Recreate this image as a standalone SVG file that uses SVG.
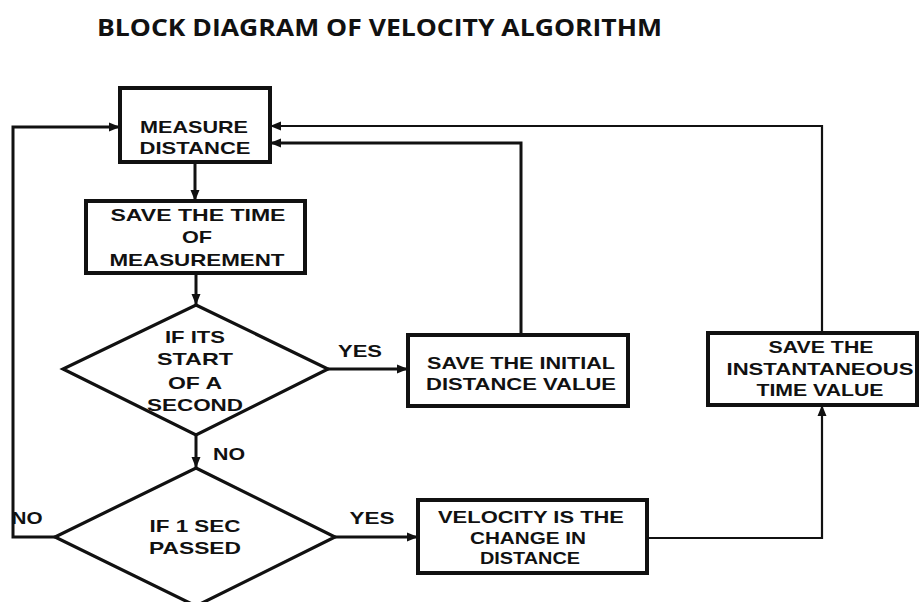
<svg xmlns="http://www.w3.org/2000/svg" width="920" height="602" viewBox="0 0 920 602">
  <defs>
    <marker id="arrow" markerUnits="userSpaceOnUse" markerWidth="12" markerHeight="10" refX="11" refY="5" orient="auto">
      <path d="M0,0.5 L11,5 L0,9.5 Z" fill="#111"/>
    </marker>
  </defs>
  <style>
    .box { fill: #fff; stroke: #111; stroke-width: 4; }
    .dec { fill: #fff; stroke: #111; stroke-width: 3.2; }
    .wire { fill: none; stroke: #111; stroke-width: 3; }
    .thin { fill: none; stroke: #111; stroke-width: 2.2; }
    .lbl { font-family: "Liberation Sans", Arial, sans-serif; font-weight: bold; font-size: 17px; fill: #111; text-anchor: middle; }
    .title { font-family: "Open Sans", "Noto Sans", sans-serif; font-weight: bold; font-size: 24px; fill: #111; }
  </style>
  <rect width="920" height="602" fill="#fff"/>

  <text class="title" x="97" y="36" textLength="565" lengthAdjust="spacingAndGlyphs">BLOCK DIAGRAM OF VELOCITY ALGORITHM</text>

  <!-- connectors -->
  <g id="connectors">
    <line class="wire" x1="195" y1="162" x2="195" y2="201" marker-end="url(#arrow)"/>
    <line class="wire" x1="196" y1="273" x2="196" y2="305" marker-end="url(#arrow)"/>
    <line class="wire" x1="328" y1="369" x2="408" y2="369" marker-end="url(#arrow)"/>
    <line class="wire" x1="196" y1="435" x2="196" y2="468" marker-end="url(#arrow)"/>
    <line class="wire" x1="335" y1="537" x2="418" y2="537" marker-end="url(#arrow)"/>
    <polyline class="wire" points="55,537 13,537 13,127 120,127" marker-end="url(#arrow)"/>
    <polyline class="wire" points="521,335 521,143 270,143" marker-end="url(#arrow)"/>
    <polyline class="thin" points="647,538 822,538 822,405" marker-end="url(#arrow)"/>
    <polyline class="thin" points="822,333 822,126 270,126" marker-end="url(#arrow)"/>
    <text class="lbl" x="360" y="357" textLength="44" lengthAdjust="spacingAndGlyphs">YES</text>
    <text class="lbl" x="229" y="460" textLength="32" lengthAdjust="spacingAndGlyphs">NO</text>
    <text class="lbl" x="372" y="524" textLength="45" lengthAdjust="spacingAndGlyphs">YES</text>
    <text class="lbl" x="27" y="524" textLength="31" lengthAdjust="spacingAndGlyphs">NO</text>
  </g>

  <g id="measure-distance">
    <rect class="box" x="120" y="88" width="150" height="74" stroke-width="4.5"/>
    <text class="lbl" x="194" y="133" textLength="108" lengthAdjust="spacingAndGlyphs">MEASURE</text>
    <text class="lbl" x="195" y="154" textLength="111" lengthAdjust="spacingAndGlyphs">DISTANCE</text>
  </g>

  <g id="save-time">
    <rect class="box" x="86" y="201" width="219" height="72"/>
    <text class="lbl" x="198" y="221" textLength="175" lengthAdjust="spacingAndGlyphs">SAVE THE TIME</text>
    <text class="lbl" x="197" y="243" textLength="30" lengthAdjust="spacingAndGlyphs">OF</text>
    <text class="lbl" x="197" y="266" textLength="175" lengthAdjust="spacingAndGlyphs">MEASUREMENT</text>
  </g>

  <g id="start-of-second">
    <polygon class="dec" points="196,305 328,369 196,435 63,369"/>
    <text class="lbl" x="195" y="343" textLength="60" lengthAdjust="spacingAndGlyphs">IF ITS</text>
    <text class="lbl" x="195" y="365" textLength="76" lengthAdjust="spacingAndGlyphs">START</text>
    <text class="lbl" x="195" y="389" textLength="54" lengthAdjust="spacingAndGlyphs">OF A</text>
    <text class="lbl" x="195" y="411" textLength="96" lengthAdjust="spacingAndGlyphs">SECOND</text>
  </g>

  <g id="save-initial">
    <rect class="box" x="408" y="335" width="220" height="71"/>
    <text class="lbl" x="521" y="369" textLength="188" lengthAdjust="spacingAndGlyphs">SAVE THE INITIAL</text>
    <text class="lbl" x="521" y="390" textLength="190" lengthAdjust="spacingAndGlyphs">DISTANCE VALUE</text>
  </g>

  <g id="one-sec-passed">
    <polygon class="dec" points="196,468 335,537 196,606 55,537"/>
    <text class="lbl" x="195" y="532" textLength="91" lengthAdjust="spacingAndGlyphs">IF 1 SEC</text>
    <text class="lbl" x="195" y="554" textLength="92" lengthAdjust="spacingAndGlyphs">PASSED</text>
  </g>

  <g id="velocity">
    <rect class="box" x="418" y="500" width="229" height="73"/>
    <text class="lbl" x="531" y="523" textLength="186" lengthAdjust="spacingAndGlyphs">VELOCITY IS THE</text>
    <text class="lbl" x="528" y="544" textLength="116" lengthAdjust="spacingAndGlyphs">CHANGE IN</text>
    <text class="lbl" x="530" y="564" textLength="100" lengthAdjust="spacingAndGlyphs">DISTANCE</text>
  </g>

  <g id="save-instantaneous">
    <rect class="box" x="708" y="333" width="209" height="72"/>
    <text class="lbl" x="821" y="353" textLength="105" lengthAdjust="spacingAndGlyphs">SAVE THE</text>
    <text class="lbl" x="820" y="375" textLength="187" lengthAdjust="spacingAndGlyphs">INSTANTANEOUS</text>
    <text class="lbl" x="820" y="396" textLength="127" lengthAdjust="spacingAndGlyphs">TIME VALUE</text>
  </g>
</svg>
